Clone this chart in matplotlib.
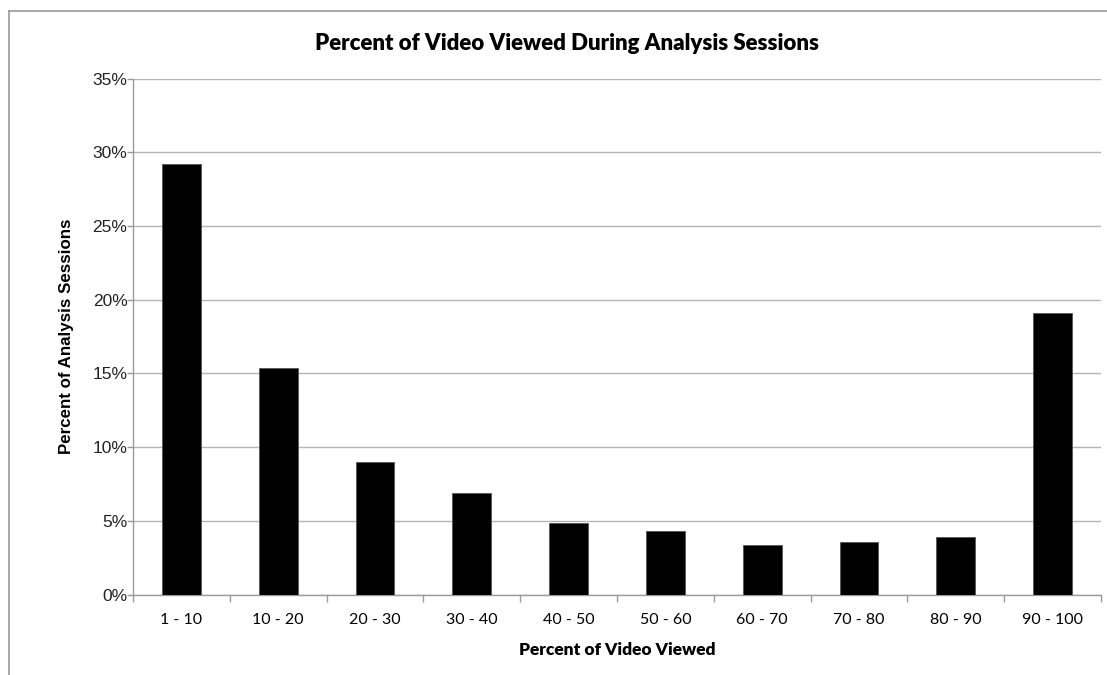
import matplotlib.pyplot as plt
from matplotlib.lines import Line2D
from matplotlib.ticker import FixedLocator, PercentFormatter

# ── Dados ──────────────────────────────────────────────────────────────────────
categorias = ["1 - 10", "10 - 20", "20 - 30", "30 - 40", "40 - 50",
              "50 - 60", "60 - 70", "70 - 80", "80 - 90", "90 - 100"]
percentuais = [29.2, 15.4, 9.0, 6.9, 4.85, 4.3, 3.37, 3.6, 3.9, 19.1]
yticks = [0, 5, 10, 15, 20, 25, 30, 35]

TITULO = "Percent of Video Viewed During Analysis Sessions"
XLABEL = "Percent of Video Viewed"
YLABEL = "Percent of Analysis Sessions"

GRID = "#b4b4b4"
EIXO = "#9a9a9a"

# ── Figura ─────────────────────────────────────────────────────────────────────
fig = plt.figure(figsize=(11.07, 6.75), dpi=100)
ax = fig.add_axes([0.1201, 0.1191, 0.8745, 0.7645])

pos = list(range(len(categorias)))
ax.bar(pos, percentuais, width=0.4, color="black",
       edgecolor="#555555", linewidth=0.6, zorder=3)

ax.set_xlim(-0.5, len(categorias) - 0.5)
ax.set_ylim(0, 35)
ax.set_yticks(yticks)
ax.yaxis.set_major_formatter(PercentFormatter(decimals=0))
ax.grid(axis="y", color=GRID, linewidth=1.0, zorder=0)

ax.set_xticks(pos)
ax.set_xticklabels(categorias, fontfamily="Lato", fontsize=11.5)
ax.xaxis.set_minor_locator(FixedLocator([p + 0.5 for p in pos[:-1]] + [-0.5, len(pos) - 0.5]))
ax.tick_params(axis="x", which="major", length=0, pad=13)
ax.tick_params(axis="x", which="minor", length=5, color=EIXO, width=1)
ax.tick_params(axis="y", length=4, color=EIXO, width=1, pad=0)
for lbl in ax.get_yticklabels():
    lbl.set_fontfamily("Liberation Sans")
    lbl.set_fontsize(12.5)
    lbl.set_color("#222222")

for lado in ["top", "right"]:
    ax.spines[lado].set_visible(False)
for lado in ["left", "bottom"]:
    ax.spines[lado].set_color(EIXO)
    ax.spines[lado].set_linewidth(1.0)

ax.set_xlabel(XLABEL, fontfamily="Lato", fontweight="heavy", fontsize=12.5, labelpad=11)
ax.set_ylabel(YLABEL, fontfamily="Liberation Sans", fontweight="bold", fontsize=12.2, labelpad=13)
fig.text(0.512, 0.936, TITULO, ha="center", va="center",
         fontfamily="Lato", fontweight="heavy", fontsize=16)

# moldura parcial (esquerda e topo)
fig.add_artist(Line2D([8.5 / 1107, 8.5 / 1107], [0, 1 - 10.5 / 675],
                      transform=fig.transFigure, color=EIXO, linewidth=1.2))
fig.add_artist(Line2D([8.5 / 1107, 1], [1 - 10.5 / 675, 1 - 10.5 / 675],
                      transform=fig.transFigure, color=EIXO, linewidth=1.2))

fig.savefig("out.png", dpi=100, facecolor="white")
